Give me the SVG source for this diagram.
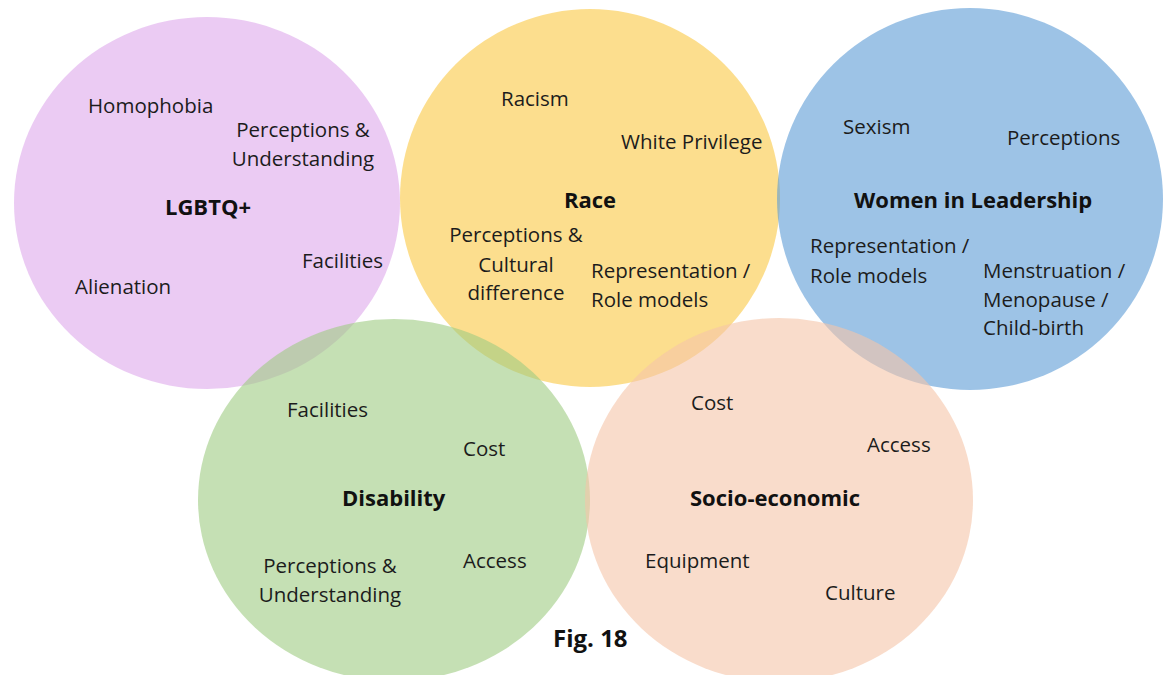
<svg xmlns="http://www.w3.org/2000/svg" width="1166" height="675" viewBox="0 0 1166 675">
  <style>
    .lbl { font-family: "Open Sans", "Liberation Sans", sans-serif; font-size: 20.5px; fill: #1c1c1c; }
    .ttl { font-family: "Open Sans", "Liberation Sans", sans-serif; font-size: 22px; font-weight: 700; fill: #111; }
    .mid { text-anchor: middle; }
    .disc { fill-opacity: 0.6; }
  </style>
  <rect width="1166" height="675" fill="#ffffff"/>

  <!-- LGBTQ+ -->
  <g id="lgbtq">
    <ellipse class="disc" cx="207" cy="203" rx="193" ry="186" fill="#DEA8EB"/>
    <text class="lbl" x="88" y="113">Homophobia</text>
    <text class="lbl mid" x="303" y="137">Perceptions &amp;</text>
    <text class="lbl mid" x="303" y="166">Understanding</text>
    <text class="ttl" x="165" y="215">LGBTQ+</text>
    <text class="lbl" x="302" y="268">Facilities</text>
    <text class="lbl" x="75" y="294">Alienation</text>
  </g>

  <!-- Race -->
  <g id="race">
    <ellipse class="disc" cx="590" cy="198" rx="190" ry="189" fill="#FAC843"/>
    <text class="lbl" x="501" y="106">Racism</text>
    <text class="lbl" x="621" y="149">White Privilege</text>
    <text class="ttl" x="564" y="208">Race</text>
    <text class="lbl mid" x="516" y="242">Perceptions &amp;</text>
    <text class="lbl mid" x="516" y="272">Cultural</text>
    <text class="lbl mid" x="516" y="300">difference</text>
    <text class="lbl" x="591" y="278">Representation /</text>
    <text class="lbl" x="591" y="307">Role models</text>
  </g>

  <!-- Women in Leadership -->
  <g id="women">
    <ellipse class="disc" cx="970" cy="199" rx="193" ry="191" fill="#5B9BD5"/>
    <text class="lbl" x="843" y="134">Sexism</text>
    <text class="lbl" x="1007" y="145">Perceptions</text>
    <text class="ttl" x="854" y="208">Women in Leadership</text>
    <text class="lbl" x="810" y="253">Representation /</text>
    <text class="lbl" x="810" y="283">Role models</text>
    <text class="lbl" x="983" y="278">Menstruation /</text>
    <text class="lbl" x="983" y="307">Menopause /</text>
    <text class="lbl" x="983" y="335">Child-birth</text>
  </g>

  <!-- Disability -->
  <g id="disability">
    <ellipse class="disc" cx="394" cy="500" rx="196" ry="181" fill="#9ECB82"/>
    <text class="lbl" x="287" y="417">Facilities</text>
    <text class="lbl" x="463" y="456">Cost</text>
    <text class="ttl" x="342" y="506">Disability</text>
    <text class="lbl mid" x="330" y="573">Perceptions &amp;</text>
    <text class="lbl mid" x="330" y="602">Understanding</text>
    <text class="lbl" x="463" y="568">Access</text>
  </g>

  <!-- Socio-economic -->
  <g id="socio-economic">
    <ellipse class="disc" cx="779" cy="500" rx="194" ry="182" fill="#F5C5A8"/>
    <text class="lbl" x="691" y="410">Cost</text>
    <text class="lbl" x="867" y="452">Access</text>
    <text class="ttl" x="690" y="506">Socio-economic</text>
    <text class="lbl" x="645" y="568">Equipment</text>
    <text class="lbl" x="825" y="600">Culture</text>
  </g>

  <!-- Caption -->
  <text id="caption" x="553" y="647" font-family="'Open Sans', 'Liberation Sans', sans-serif" font-size="24px" font-weight="700" fill="#111">Fig. 18</text>
</svg>
